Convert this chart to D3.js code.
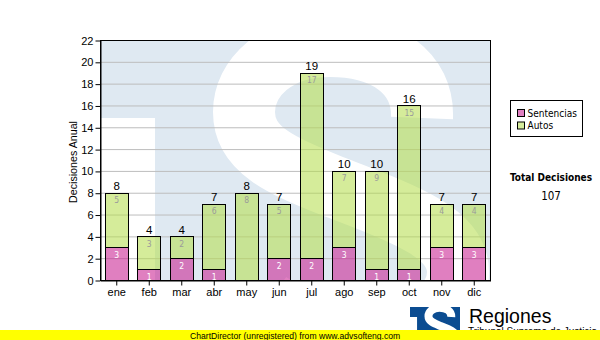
<!DOCTYPE html>
<html>
<head>
<meta charset="utf-8">
<script src="https://cdn.jsdelivr.net/npm/d3@7"></script>
<style>
  html, body { margin: 0; padding: 0; background: #fff; }
  svg { display: block; }
</style>
</head>
<body>
<svg id="chart" width="600" height="340"></svg>
<script>
// Monthly decisions, stacked by type
const months = ["ene", "feb", "mar", "abr", "may", "jun", "jul", "ago", "sep", "oct", "nov", "dic"];
const sentencias = [3, 1, 2, 1, 0, 2, 2, 3, 1, 1, 3, 3];
const autos = [5, 3, 2, 6, 8, 5, 17, 7, 9, 15, 4, 4];
const seriesNames = ["Sentencias", "Autos"];
const yTickValues = [0, 2, 4, 6, 8, 10, 12, 14, 16, 18, 20, 22];
const yTitle = "Decisiones Anual";
const totalTitle = "Total Decisiones";
const brandName = "Regiones";
const brandSub = "Tribunal Supremo de Justicia";
const footerText = "ChartDirector (unregistered) from www.advsofteng.com";

const svg = d3.select("#chart");
const plot = { left: 100, right: 490, top: 40, bottom: 280 };
const pw = plot.right - plot.left, ph = plot.bottom - plot.top;

const seriesColors = { Sentencias: "rgba(200,30,145,0.57)", Autos: "rgba(182,222,78,0.57)" };
const swatchColors = { Sentencias: "#e07fc1", Autos: "#d6ec9c" };
const labelColors = { Sentencias: "#ffffff", Autos: "#9a9a9a" };

const table = months.map((m, i) => ({ month: m, Sentencias: sentencias[i], Autos: autos[i] }));
const stacked = d3.stack().keys(seriesNames)(table);
const totals = table.map(d => d.Sentencias + d.Autos);
const grandTotal = d3.sum(totals);

const x = d3.scaleBand().domain(months).range([plot.left, plot.right])
  .paddingInner(0.3).paddingOuter(0.15);
const y = d3.scaleLinear().domain([0, 22]).range([plot.bottom, plot.top]);

const defs = svg.append("defs");
defs.append("clipPath").attr("id", "plotClip")
  .append("rect").attr("x", plot.left).attr("y", plot.top).attr("width", pw).attr("height", ph);

// "TS" emblem: T shape in the fill colour, S and lower-left corner cut out in white
function emblem(g, fill) {
  g.append("rect").attr("x", 100).attr("y", 40).attr("width", 390).attr("height", 240).attr("fill", fill);
  g.append("rect").attr("x", 100).attr("y", 118).attr("width", 55).attr("height", 162).attr("fill", "#fff");
  g.append("path")
    .attr("d", "M 422,118 C 424,72 384,46 330,46 C 276,46 244,78 244,112 C 244,150 282,166 332,186 C 402,213 458,232 458,272 C 458,312 412,328 360,328 C 320,328 290,318 268,302")
    .attr("fill", "none").attr("stroke", "#fff").attr("stroke-width", 62);
}

// plot background watermark
const wm = svg.append("g").attr("clip-path", "url(#plotClip)");
emblem(wm, "#dfe9f2");

// horizontal grid
svg.append("g").selectAll("line").data(yTickValues).join("line")
  .attr("x1", plot.left).attr("x2", plot.right)
  .attr("y1", d => y(d) + 0.5).attr("y2", d => y(d) + 0.5)
  .attr("stroke", "#bdbdbd").attr("stroke-width", 1);

// stacked bars
const layers = svg.append("g").selectAll("g").data(stacked).join("g");
layers.selectAll("rect").data(layer => layer.map(s => ({ key: layer.key, s, month: s.data.month })))
  .join("rect")
  .filter(d => d.s[1] > d.s[0])
  .attr("x", d => Math.round(x(d.month)) + 0.5)
  .attr("y", d => Math.round(y(d.s[1])) + 0.5)
  .attr("width", Math.round(x.bandwidth()))
  .attr("height", d => Math.round(y(d.s[0])) - Math.round(y(d.s[1])))
  .attr("fill", d => seriesColors[d.key])
  .attr("stroke", "#000").attr("stroke-width", 1);

// segment value labels
const segFont = "'DejaVu Sans Condensed', 'DejaVu Sans', sans-serif";
stacked.forEach(layer => {
  svg.append("g").selectAll("text").data(layer.filter(s => s[1] > s[0])).join("text")
    .attr("x", s => x(s.data.month) + x.bandwidth() / 2 + 0.5)
    .attr("y", s => y(s[1]) + 10.5)
    .attr("text-anchor", "middle")
    .attr("font-family", segFont).attr("font-size", "8.5px")
    .attr("fill", labelColors[layer.key])
    .text(s => s[1] - s[0]);
});

// total labels above each bar
svg.append("g").selectAll("text").data(table).join("text")
  .attr("x", (d, i) => x(d.month) + x.bandwidth() / 2 + 0.5)
  .attr("y", (d, i) => y(totals[i]) - 2.5)
  .attr("text-anchor", "middle")
  .attr("font-family", "'Liberation Sans', Arial, sans-serif").attr("font-size", "11.5px")
  .attr("fill", "#000")
  .text((d, i) => totals[i]);

// plot border
svg.append("rect")
  .attr("x", plot.left + 0.5).attr("y", plot.top + 0.5)
  .attr("width", pw).attr("height", ph)
  .attr("fill", "none").attr("stroke", "#000").attr("stroke-width", 1);

// axes
const axisFont = "'Liberation Sans', Arial, sans-serif";
const yAxis = svg.append("g").attr("transform", `translate(${plot.left + 0.5},0.5)`)
  .call(d3.axisLeft(y).tickValues(yTickValues).tickSize(5).tickSizeOuter(0).tickPadding(2));
const xAxis = svg.append("g").attr("transform", `translate(0.5,${plot.bottom + 0.5})`)
  .call(d3.axisBottom(x).tickSize(5).tickSizeOuter(0).tickPadding(3));
[yAxis, xAxis].forEach(a => {
  a.select(".domain").attr("stroke", "#000");
  a.selectAll(".tick line").attr("stroke", "#000");
  a.selectAll(".tick text").attr("fill", "#000")
    .attr("font-family", axisFont).attr("font-size", "11px");
});

// y axis title
svg.append("text")
  .attr("transform", `translate(77,${(plot.top + plot.bottom) / 2 + 2}) rotate(-90)`)
  .attr("text-anchor", "middle")
  .attr("font-family", axisFont).attr("font-size", "10.7px").attr("fill", "#000")
  .text(yTitle);

// legend
const legendFont = "'DejaVu Sans Condensed', 'DejaVu Sans', sans-serif";
const lg = svg.append("g").attr("transform", "translate(510.5,100.5)");
lg.append("rect").attr("width", 72).attr("height", 36).attr("fill", "#fff").attr("stroke", "#000");
seriesNames.forEach((name, i) => {
  lg.append("rect").attr("x", 7).attr("y", 9 + i * 12.5).attr("width", 7).attr("height", 7)
    .attr("fill", swatchColors[name]).attr("stroke", "#000");
  lg.append("text").attr("x", 17).attr("y", 16 + i * 12.5)
    .attr("font-family", legendFont).attr("font-size", "10px").attr("fill", "#000")
    .text(name);
});

// grand total
svg.append("text").attr("x", 551).attr("y", 181).attr("text-anchor", "middle")
  .attr("font-family", legendFont).attr("font-size", "10px").attr("font-weight", "bold")
  .attr("fill", "#000").text(totalTitle);
svg.append("text").attr("x", 551).attr("y", 200).attr("text-anchor", "middle")
  .attr("font-family", legendFont).attr("font-size", "11.5px")
  .attr("fill", "#000").text(grandTotal);

// brand emblem and name
const logoScale = 50 / 390;
const logo = svg.append("g")
  .attr("transform", `translate(410,307) scale(${logoScale}) translate(-100,-40)`)
  .attr("clip-path", "url(#plotClip)");
emblem(logo, "#0b4c91");
svg.append("text").attr("x", 469).attr("y", 323)
  .attr("font-family", axisFont).attr("font-size", "19.5px").attr("fill", "#000")
  .text(brandName);
svg.append("text").attr("x", 468).attr("y", 335)
  .attr("font-family", axisFont).attr("font-size", "10px").attr("fill", "#000")
  .text(brandSub);

// footer strip
svg.append("rect").attr("x", 0).attr("y", 330).attr("width", 600).attr("height", 10).attr("fill", "#ffff00");
svg.append("text").attr("x", 190).attr("y", 338.5)
  .attr("font-family", axisFont).attr("font-size", "8.6px").attr("fill", "#000")
  .text(footerText);
</script>
</body>
</html>
